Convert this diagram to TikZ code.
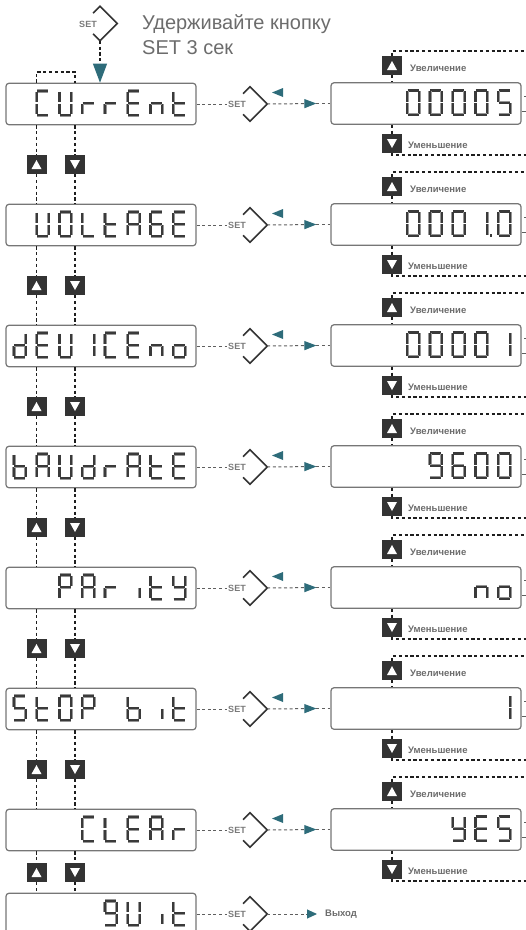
\documentclass[tikz,border=0pt]{standalone}
\usepackage{fontspec}
\setmainfont{Liberation Sans}
\usetikzlibrary{arrows.meta,calc}
\definecolor{tealc}{RGB}{46,108,122}
\definecolor{btnc}{RGB}{51,51,51}
\definecolor{boxc}{RGB}{118,118,118}
\definecolor{txtc}{RGB}{108,108,108}
\definecolor{setc}{RGB}{122,122,122}
\definecolor{segc}{RGB}{58,58,58}
\definecolor{seggl}{RGB}{150,150,150}
\definecolor{linec}{RGB}{30,30,30}
\definecolor{hlinec}{RGB}{95,95,95}
% seven-segment pieces (local units, y downwards)
\newcommand\sgA{\draw[seg] (1.8,1.3)--(12.7,1.3);}
\newcommand\sgB{\draw[seg] (13.2,2.2)--(13.2,12.7);}
\newcommand\sgC{\draw[seg] (13.2,14.3)--(13.2,24.8);}
\newcommand\sgD{\draw[seg] (1.8,25.7)--(12.7,25.7);}
\newcommand\sgE{\draw[seg] (1.3,14.3)--(1.3,24.8);}
\newcommand\sgF{\draw[seg] (1.3,2.2)--(1.3,12.7);}
\newcommand\sgG{\draw[seg] (1.8,13.5)--(12.7,13.5);}
\newcommand\defch[2]{\expandafter\def\csname sch#1\endcsname{#2}}
\defch{0}{\sgA\sgB\sgC\sgD\sgE\sgF}
\defch{O}{\sgA\sgB\sgC\sgD\sgE\sgF}
\defch{1}{\sgB\sgC}
\defch{I}{\sgB\sgC}
\defch{5}{\sgA\sgC\sgD\sgF\sgG}
\defch{S}{\sgA\sgC\sgD\sgF\sgG}
\defch{6}{\sgA\sgC\sgD\sgE\sgF\sgG}
\defch{9}{\sgA\sgB\sgC\sgD\sgF\sgG}
\defch{q}{\sgA\sgB\sgC\sgD\sgF\sgG}
\defch{A}{\sgA\sgB\sgC\sgE\sgF\sgG}
\defch{b}{\sgC\sgD\sgE\sgF\sgG}
\defch{C}{\sgA\sgD\sgE\sgF}
\defch{d}{\sgB\sgC\sgD\sgE\sgG}
\defch{E}{\sgA\sgD\sgE\sgF\sgG}
\defch{L}{\sgD\sgE\sgF}
\defch{n}{\sgC\sgE\sgG}
\defch{o}{\sgC\sgD\sgE\sgG}
\defch{P}{\sgA\sgB\sgE\sgF\sgG}
\defch{r}{\sgE\sgG}
\defch{t}{\sgD\sgE\sgF\sgG}
\defch{U}{\sgB\sgC\sgD\sgE\sgF}
\defch{Y}{\sgB\sgC\sgD\sgF\sgG}
\defch{i}{\sgC}
\defch{j}{\sgE}
\defch{p}{\fill[segc] (15.4,24.2) rectangle (17.8,26.8);}
\newcommand\lcd[2]{\foreach \sgpos/\sgchar in {#2}{%
  \begin{scope}[shift={(#1.north west)},shift={({7.25+(\sgpos-1)*22.75},7)}]%
  \csname sch\sgchar\endcsname
  \end{scope}}}
% one menu row: index, top y, left text, right text
\newcommand\mainrow[4]{%
  \node[lcdbox] (L#1) at (101,#2+21) {#3};
  \node[lcdbox] (R#1) at (426,#2+20.5) {#4};
  \node[diabox] (S#1) at (250,#2+21) {};
  \draw[diaedge] ($(S#1.north)!0.4!(S#1.west)$) -- (S#1.north) -- (S#1.east) -- (S#1.south) -- ($(S#1.south)!0.4!(S#1.west)$);
  \node[settext] (ST#1) at ([shift={(-13,0)}]S#1.center) {SET};
  \draw[hd] (L#1.east) -- (ST#1.west);
  \draw[hd,-{Triangle[length=12pt,width=9pt,color=tealc]}] (S#1.east) -- ([shift={(-14,0)}]R#1.west);
  \draw[hd] ([shift={(-14,0)}]R#1.west) -- (R#1.west);
  \fill[tealc] ([shift={(22,-11.5)}]S#1.center) -- ([shift={(33,-16)}]S#1.center) -- ([shift={(33,-7)}]S#1.center) -- cycle;
  \node[btnup] (RU#1) at (392,#2-17.5) {};
  \node[btndn] (RD#1) at (392,#2+60.5) {};
  \coordinate (RT#1) at (530,#2-32);
  \coordinate (RB#1) at (530,#2+72);
  \draw[vd] (RU#1.north) |- (RT#1);
  \draw[vd] (RU#1.south) -- (RU#1.south |- R#1.north);
  \draw[vd] (R#1.south -| RD#1) -- (RD#1.north);
  \draw[vd] (RD#1.south) |- (RB#1);
  \node[lbl] (inc#1) at (410,#2-15) {Увеличение};
  \node[lbl] (dec#1) at (408,#2+62) {Уменьшение};
  \draw[stub] ([shift={(0,7.5)}]R#1.east) -- ++(6,0);
  \draw[stub] ([shift={(2.5,-7.5)}]R#1.east) -- ++(4,0);
}
% left buttons between rows: index, next index, centre y
\newcommand\leftbtns[3]{%
  \node[btnup] (LU#1) at (36.5,#3) {};
  \node[btndn] (LD#1) at (75,#3) {};
  \draw[vd] (L#1.south -| LU#1) -- (LU#1.north);
  \draw[vd] (LU#1.south) -- (L#2.north -| LU#1);
  \draw[vd] (L#1.south -| LD#1) -- (LD#1.north);
  \draw[vd] (LD#1.south) -- (L#2.north -| LD#1);
}
\begin{document}
\begin{tikzpicture}[x=1pt,y=-1pt,
  seg/.style={line width=2.2pt, draw=segc, line cap=butt, preaction={draw=seggl, line width=3.2pt}},
  lcdbox/.style={draw=boxc, line width=1.2pt, rounded corners=3pt, fill=white,
    minimum width=190pt, minimum height=41.5pt, inner sep=0pt, text opacity=0, font=\fontsize{20}{24}\selectfont},
  diabox/.style={rectangle, draw=none, minimum width=34pt, minimum height=34pt, inner sep=0pt},
  diaedge/.style={draw=btnc, line width=1.6pt, line join=miter},
  settext/.style={font=\bfseries\fontsize{9}{10}\selectfont, text=setc, inner sep=1pt},
  hd/.style={draw=hlinec, line width=1pt, dash pattern=on 3pt off 2.6pt},
  vd/.style={draw=linec, line width=1.2pt, dash pattern=on 3.2pt off 2.6pt},
  stub/.style={draw=hlinec, line width=1pt},
  btn/.style={fill=btnc, minimum width=20pt, minimum height=19pt, inner sep=0pt},
  btnup/.style={btn, path picture={\fill[white] ([shift={(-5,4.5)}]path picture bounding box.center) -- ([shift={(5,4.5)}]path picture bounding box.center) -- ([shift={(0,-4.5)}]path picture bounding box.center) -- cycle;}},
  btndn/.style={btn, path picture={\fill[white] ([shift={(-5,-4.5)}]path picture bounding box.center) -- ([shift={(5,-4.5)}]path picture bounding box.center) -- ([shift={(0,4.5)}]path picture bounding box.center) -- cycle;}},
  lbl/.style={font=\bfseries\fontsize{9.5}{11}\selectfont, text=txtc, inner sep=0pt, anchor=west},
  title/.style={font=\fontsize{20}{24}\selectfont, text=txtc, inner sep=0pt, anchor=base west}
  ]
\useasboundingbox (0,0) rectangle (526,930);
\clip (0,0) rectangle (526,930);

% top: hold SET
\node[diabox] (Stop) at (100,23.5) {};
\draw[diaedge] ($(Stop.north)!0.4!(Stop.west)$) -- (Stop.north) -- (Stop.east) -- (Stop.south) -- ($(Stop.south)!0.4!(Stop.west)$);
\node[settext] (STtop) at ([shift={(-12,0.5)}]Stop.center) {SET};
\node[title] (t1) at (142,29.5) {Удерживайте кнопку};
\node[title] (t2) at (142,54.5) {SET 3 сек};

\mainrow{0}{83}{CUrrEnt}{00005}
\mainrow{1}{204}{VOLTAGE}{0001.0}
\mainrow{2}{325}{dEVICEno}{00001}
\mainrow{3}{446}{bAUdrAtE}{9600}
\mainrow{4}{567}{PArity}{no}
\mainrow{5}{688}{StOP bit}{1}
\mainrow{6}{809}{CLEAr}{YES}

% last row: quit
\node[lcdbox] (L7) at (101,914) {qUit};
\node[diabox] (S7) at (250,914) {};
\draw[diaedge] ($(S7.north)!0.4!(S7.west)$) -- (S7.north) -- (S7.east) -- (S7.south) -- ($(S7.south)!0.4!(S7.west)$);
\node[settext] (ST7) at ([shift={(-13,0)}]S7.center) {SET};
\draw[hd] (L7.east) -- (ST7.west);
\node[lbl] (exit) at (325,914) {Выход};
\draw[hd,-{Triangle[length=10pt,width=9pt,color=tealc]}] (S7.east) -- ([shift={(-8,0)}]exit.west);

% entry arrow
\draw[vd,-{Triangle[length=19pt,width=14pt,color=tealc]}] (Stop.south) -- (Stop.south |- L0.north);

% left navigation
\leftbtns{0}{1}{164.5}
\leftbtns{1}{2}{285.5}
\leftbtns{2}{3}{406.5}
\leftbtns{3}{4}{527.5}
\leftbtns{4}{5}{648.5}
\leftbtns{5}{6}{769.5}
\leftbtns{6}{7}{872.5}
\coordinate (loopTop) at (55,72);
\draw[vd] (L0.north -| LU0) |- (loopTop) -| (L0.north -| LD0);

% display segments
\lcd{L0}{2/C,3/U,4/r,5/r,6/E,7/n,8/t}
\lcd{L1}{2/U,3/O,4/L,5/t,6/A,7/6,8/E}
\lcd{L2}{1/d,2/E,3/U,4/I,5/C,6/E,7/n,8/o}
\lcd{L3}{1/b,2/A,3/U,4/d,5/r,6/A,7/t,8/E}
\lcd{L4}{3/P,4/A,5/r,6/i,7/t,8/Y}
\lcd{L5}{1/S,2/t,3/O,4/P,6/b,7/i,8/t}
\lcd{L6}{4/C,5/L,6/E,7/A,8/r}
\lcd{L7}{5/q,6/U,7/i,8/t}
\lcd{R0}{4/0,5/0,6/0,7/0,8/5}
\lcd{R1}{4/0,5/0,6/0,7/1,7/p,8/0}
\lcd{R2}{4/0,5/0,6/0,7/0,8/1}
\lcd{R3}{5/9,6/6,7/0,8/0}
\lcd{R4}{7/n,8/o}
\lcd{R5}{8/1}
\lcd{R6}{6/Y,7/E,8/S}
\end{tikzpicture}
\end{document}
